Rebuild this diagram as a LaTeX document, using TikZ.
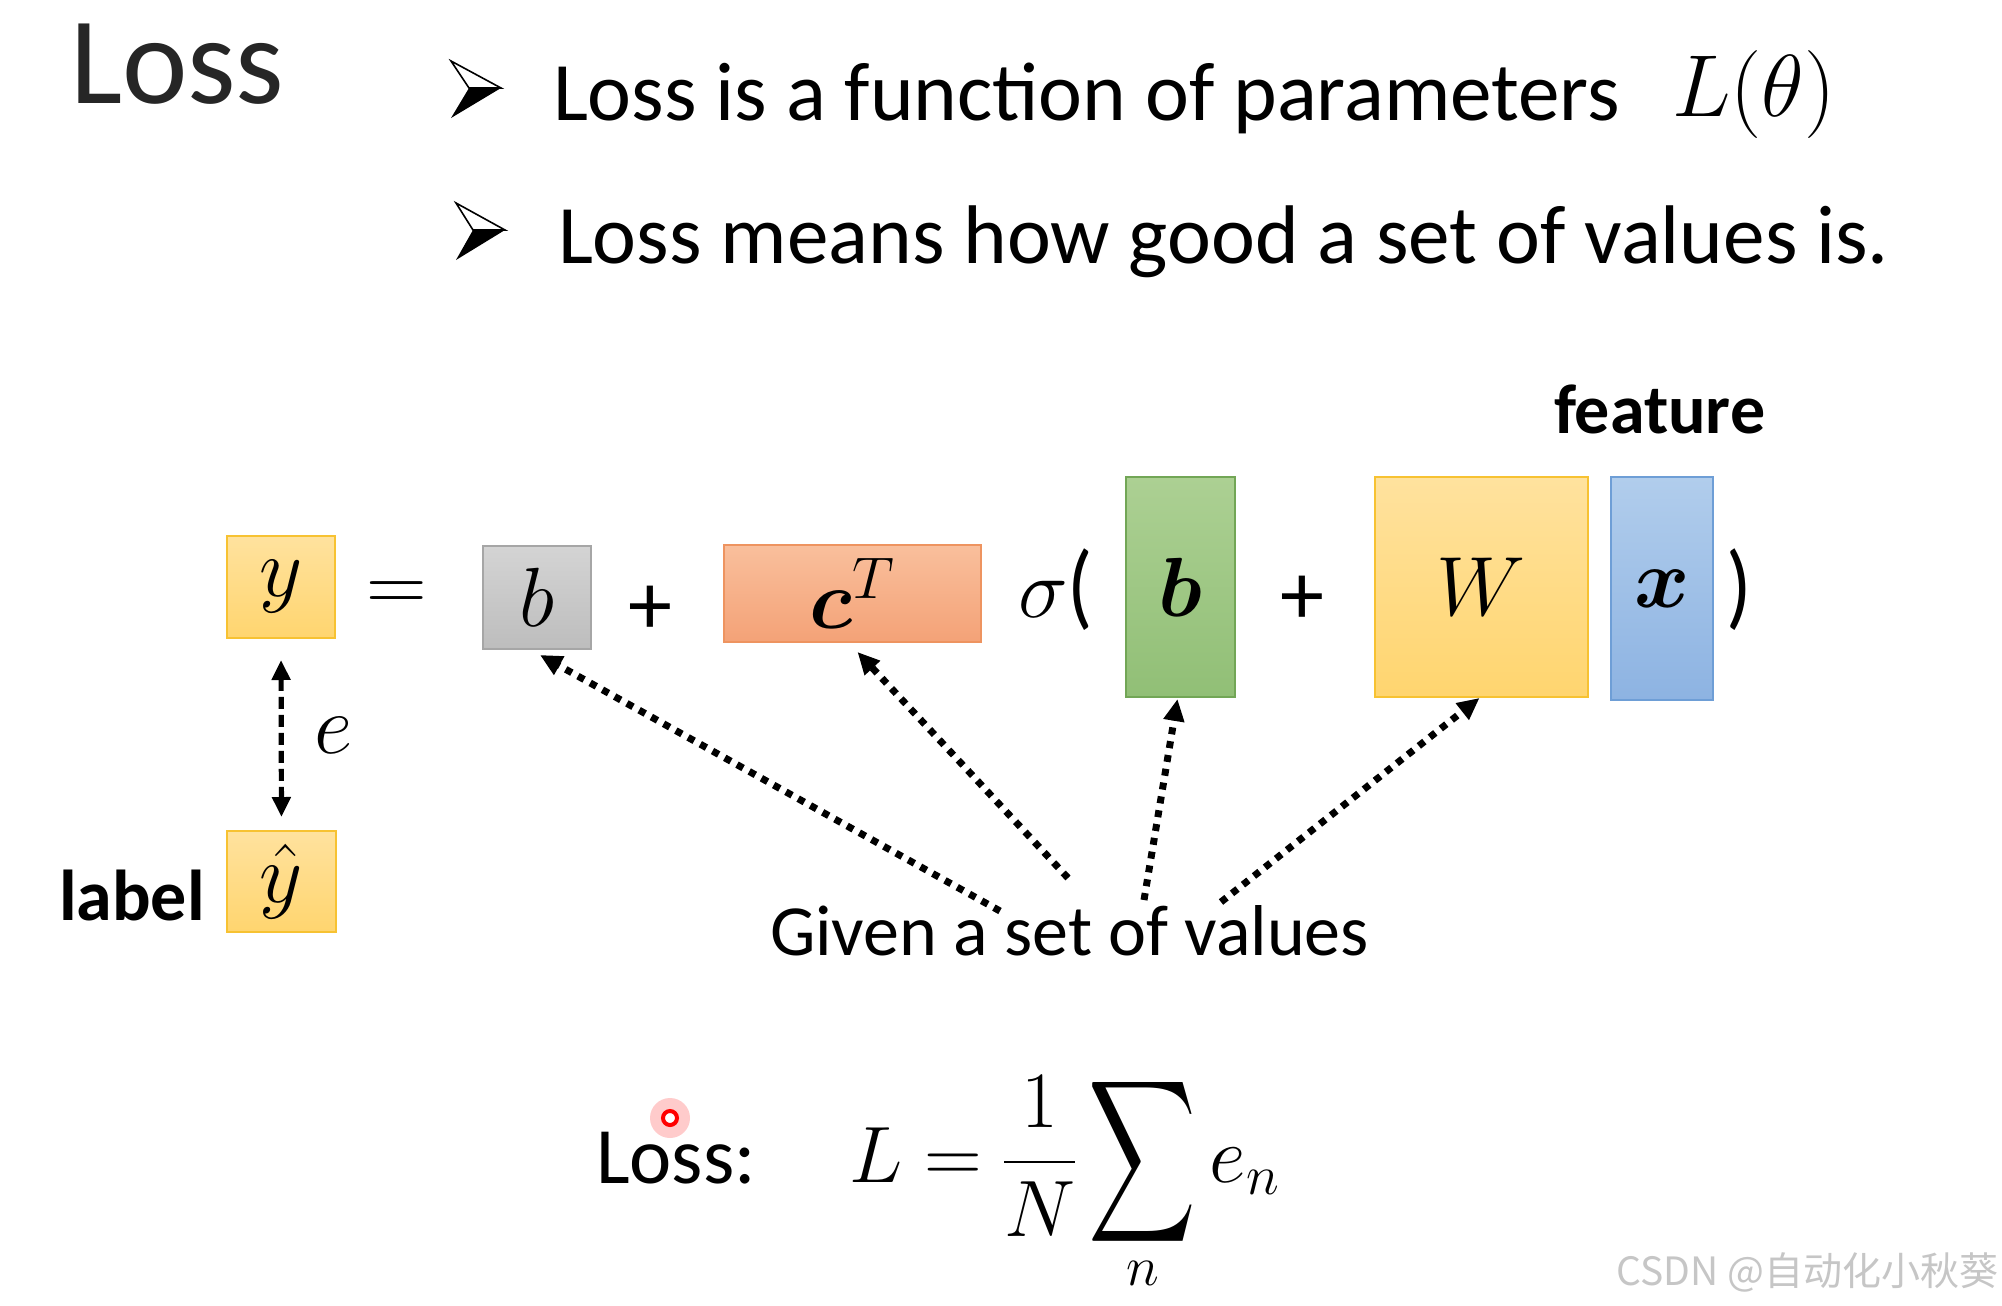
\RequirePackage{fix-cm}
\documentclass[tikz,border=0pt]{standalone}
\usepackage{amsmath}
\usepackage{exscale}
\usepackage{bm}
\usepackage[no-math]{fontspec}
\setmainfont{Carlito}
\newfontfamily\cjkfont{Noto Sans CJK SC}
\usetikzlibrary{arrows.meta,calc}
\definecolor{yT}{HTML}{FFE29E}\definecolor{yB}{HTML}{FFD56F}\definecolor{yD}{HTML}{F7C232}
\definecolor{gT}{HTML}{D4D4D4}\definecolor{gB}{HTML}{BDBDBD}\definecolor{gD}{HTML}{A6A6A6}
\definecolor{oT}{HTML}{F9BF9C}\definecolor{oB}{HTML}{F4A277}\definecolor{oD}{HTML}{EE9460}
\definecolor{grT}{HTML}{ACD093}\definecolor{grB}{HTML}{91BF76}\definecolor{grD}{HTML}{72A656}
\definecolor{bT}{HTML}{B1CDEC}\definecolor{bB}{HTML}{8DB3E2}\definecolor{bD}{HTML}{6E9ED6}
\begin{document}
\begin{tikzpicture}[x=0.5pt,y=-0.5pt,
  every node/.style={inner sep=0pt, outer sep=0pt},
  txt/.style={font=\fontsize{41.6}{49}\selectfont, anchor=base west},
  mth/.style={font=\fontsize{42}{50}\selectfont},
  vbox/.style={draw, line width=1.2pt, mth},
  ybx/.style={vbox, draw=yD, top color=yT, bottom color=yB},
  gbx/.style={vbox, draw=gD, top color=gT, bottom color=gB},
  obx/.style={vbox, draw=oD, top color=oT, bottom color=oB},
  grbx/.style={vbox, draw=grD, top color=grT, bottom color=grB},
  bbx/.style={vbox, draw=bD, top color=bT, bottom color=bB},
  plussign/.style={font=\fontsize{44}{50}\selectfont},
  boldlbl/.style={anchor=base west, font=\fontsize{36}{42}\selectfont\bfseries},
  dotarrow/.style={line width=3.5pt, dash pattern=on 3.5pt off 3.5pt, -{Triangle[length=11pt,width=10pt]}},
  earrow/.style={line width=2.6pt, dash pattern=on 6pt off 3pt, {Triangle[length=10pt,width=9pt]}-{Triangle[length=10pt,width=9pt]}},
  bulletup/.style={fill=white, draw=black, line width=0.8pt, line join=miter},
  bulletdn/.style={fill=black}
]
\fill[white] (0,0) rectangle (2002,1306);
\path[use as bounding box] (0,0) rectangle (2002,1306);

% title and bullets
\node[txt, font=\fontsize{62}{70}\selectfont, text=black!85] (title) at (70,103) {Loss};

\filldraw[bulletup] (451,61) -- (501,88) -- (469,88) -- cycle;
\fill[bulletdn] (469,88) -- (501,88) -- (451,118) -- cycle;
\node[txt] (b1) at (553,120) {Loss is a function of parameters};
\node[mth, anchor=base west, font=\fontsize{44}{52}\selectfont] (Ltheta) at (1672,116) {$L(\theta)$};

\filldraw[bulletup] (456,203) -- (505,230) -- (473,230) -- cycle;
\fill[bulletdn] (473,230) -- (505,230) -- (456,260) -- cycle;
\node[txt] (b2) at (558,263) {Loss means how good a set of values is.};

\node[boldlbl, font=\fontsize{35}{42}\selectfont\bfseries] (feature) at (1554,433) {feature};

% equation row
\node[ybx, minimum width=54pt, minimum height=51pt] (y) at (281,587) {$y$};
\node[mth] (eq) at (397,597) {$=$};
\node[gbx, minimum width=54pt, minimum height=51.5pt] (b) at (537,597.5) {$b$};
\node[plussign] (plus1) at (650,610) {+};
\node[obx, minimum width=128.5pt, minimum height=48.5pt] (cT) at (852.5,593.5) {$\bm{c}^{T}$\hspace{10pt}};
\node[mth, anchor=base west] (sig) at (1018,617) {$\sigma\scalebox{1}[1.12]{(}$};
\node[grbx, minimum width=54.5pt, minimum height=110pt] (bvec) at (1180.5,587) {$\bm{b}$};
\node[plussign] (plus2) at (1302,600) {+};
\node[ybx, minimum width=106.5pt, minimum height=110pt] (W) at (1481.5,587) {$W$};
\node[bbx, minimum width=51pt, minimum height=111.5pt] (x) at (1662,588.5) {$\bm{x}$};
\node[mth, anchor=base west] (rp) at (1726,617) {$\scalebox{1}[1.12]{)}$};

% label
\node[ybx, minimum width=54.5pt, minimum height=50.5pt] (yhat) at (281.5,881.5) {$\hat{y}$};
\node[boldlbl] (label) at (59,920) {label};
\draw[earrow, shorten <=11pt, shorten >=7pt] (y.south) -- (yhat.north);
\node[mth] (e) at (334,735) {$e$};

% given values
\node[txt, font=\fontsize{36}{43}\selectfont] (given) at (770,955) {Given a set of values};
\coordinate (s1) at (1000,911);
\coordinate (s2) at (1068,878);
\coordinate (s3) at (1144,900);
\coordinate (s4) at (1221,902);
\draw[dotarrow] (s1) -- ($(b.south)+(3,6)$);
\draw[dotarrow] (s2) -- ($(cT.south)+(5,10)$);
\draw[dotarrow] (s3) -- ($(bvec.south)+(-3,2)$);
\draw[dotarrow] (s4) -- ($(W.south)+(-2,1)$);

% loss formula
\node[txt, font=\fontsize{40}{48}\selectfont] (losslbl) at (596,1183) {Loss:};
\node[anchor=base west, font=\fontsize{40}{48}\selectfont] (formula) at (849,1182)
  {$\nulldelimiterspace=0pt\displaystyle L=\frac{1}{N}\mathop{\vcenter{\hbox{\scalebox{1.5}[2.28]{$\displaystyle\sum$}}}}\limits_{n} e_n$};

% laser pointer dot
\fill[red!40, opacity=0.5] (670,1118) circle (10pt);
\draw[red, line width=2pt, fill=white] (670,1118) circle (3.5pt);

% watermark
\node[anchor=base east, font={\cjkfont\fontsize{19.5}{23}\selectfont}, text=gray!45] (wm) at (1998,1285) {CSDN @自动化小秋葵};
\end{tikzpicture}
\end{document}
